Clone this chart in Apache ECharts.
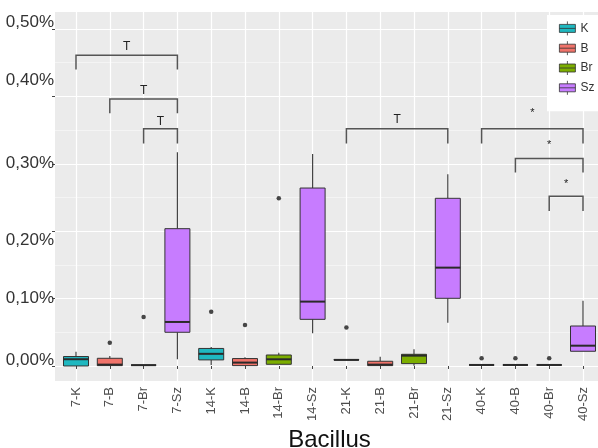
<!DOCTYPE html>
<html>
<head>
<meta charset="utf-8">
<script src="https://cdn.jsdelivr.net/npm/echarts@6/dist/echarts.min.js"></script>
<style>html,body{margin:0;padding:0;background:#fff;}#c{width:598px;height:448px;}</style>
</head>
<body>
<div id="c"></div>
<script>
// ---- data (values in %) ----
var categories = ['7-K','7-B','7-Br','7-Sz','14-K','14-B','14-Br','14-Sz','21-K','21-B','21-Br','21-Sz','40-K','40-B','40-Br','40-Sz'];
var groups = ['K','B','Br','Sz'];
// [category, min, Q1, median, Q3, max]
var statsK = [
  ['7-K', 0.000, 0.000, 0.010, 0.014, 0.021],
  ['14-K', 0.0015, 0.009, 0.018, 0.026, 0.028],
  ['21-K', 0.009, 0.009, 0.009, 0.0095, 0.0095],
  ['40-K', 0.0015, 0.0015, 0.0015, 0.0015, 0.0015]
];
var statsB = [
  ['7-B', 0.0005, 0.0005, 0.002, 0.0114, 0.0148],
  ['14-B', 0.0005, 0.0005, 0.005, 0.011, 0.013],
  ['21-B', 0.0005, 0.0005, 0.002, 0.007, 0.0138],
  ['40-B', 0.0015, 0.0015, 0.0015, 0.0015, 0.0015]
];
var statsBr = [
  ['7-Br', 0.0012, 0.0012, 0.0012, 0.0012, 0.0012],
  ['14-Br', 0.0025, 0.0025, 0.0099, 0.0163, 0.0198],
  ['21-Br', 0.0005, 0.0035, 0.0153, 0.0173, 0.0247],
  ['40-Br', 0.0015, 0.0015, 0.0015, 0.0015, 0.0015]
];
var statsSz = [
  ['7-Sz', 0.0099, 0.050, 0.0653, 0.2037, 0.317],
  ['14-Sz', 0.0485, 0.0692, 0.0955, 0.264, 0.3145],
  ['21-Sz', 0.0643, 0.1004, 0.1459, 0.2488, 0.2844],
  ['40-Sz', 0.0218, 0.0218, 0.0301, 0.0593, 0.0969]
];
var outliers = [
  ['7-B', 0.0346], ['7-Br', 0.0727], ['14-K', 0.0806], ['14-B', 0.0608],
  ['14-Br', 0.249], ['21-K', 0.0569], ['40-K', 0.0114], ['40-B', 0.0114], ['40-Br', 0.0114]
];
// [from, to, bracket level, tick end, label level, label]
var brackets = [
  ['7-K', '7-Sz', 0.461, 0.440, 0.474, 'T'],
  ['7-B', '7-Sz', 0.396, 0.375, 0.408, 'T'],
  ['7-Br', '7-Sz', 0.352, 0.330, 0.362, 'T'],
  ['21-K', '21-Sz', 0.352, 0.330, 0.366, 'T'],
  ['40-K', '40-Sz', 0.352, 0.330, 0.375, '*'],
  ['40-B', '40-Sz', 0.308, 0.287, 0.328, '*'],
  ['40-Br', '40-Sz', 0.252, 0.230, 0.270, '*']
];
var yMajor = [0, 0.1, 0.2, 0.3, 0.4, 0.5];
var yMinor = [0.05, 0.15, 0.25, 0.35, 0.45];
var yMin = -0.0223, yMax = 0.5252;

var colors = {K: '#1FB8C0', B: '#F0736A', Br: '#7CAE00', Sz: '#C77CFF'};
var statsByGroup = {K: statsK, B: statsB, Br: statsBr, Sz: statsSz};
var FONT = 'Liberation Sans, Arial, sans-serif';
var BOX_W = 25;

var chart = echarts.init(document.getElementById('c'), null, {renderer: 'canvas'});
var legendIcon = 'path://M0,3H16V11H0Z M0,7H16 M8,0V3 M8,11V14';

// ggplot-style box: whiskers without end caps, thick median
function boxRenderer(color) {
  return function (params, api) {
    var xi = api.value(0);
    var x = api.coord([xi, 0])[0];
    var yMinP = api.coord([xi, api.value(1)])[1];
    var yQ1 = api.coord([xi, api.value(2)])[1];
    var yMed = api.coord([xi, api.value(3)])[1];
    var yQ3 = api.coord([xi, api.value(4)])[1];
    var yMaxP = api.coord([xi, api.value(5)])[1];
    var half = BOX_W / 2;
    return {
      type: 'group',
      children: [
        {type: 'line', shape: {x1: x, y1: yQ3, x2: x, y2: yMaxP}, style: {stroke: '#444', lineWidth: 1.2}},
        {type: 'line', shape: {x1: x, y1: yQ1, x2: x, y2: yMinP}, style: {stroke: '#444', lineWidth: 1.2}},
        {type: 'rect', shape: {x: x - half, y: yQ3, width: BOX_W, height: Math.max(yQ1 - yQ3, 0)}, style: {fill: color, stroke: '#333', lineWidth: 1}},
        {type: 'line', shape: {x1: x - half, y1: yMed, x2: x + half, y2: yMed}, style: {stroke: '#2a2a2a', lineWidth: 2}}
      ]
    };
  };
}

var series = groups.map(function (g) {
  return {
    name: g,
    type: 'custom',
    xAxisIndex: 1, yAxisIndex: 2,
    encode: {x: 0, y: [1, 2, 3, 4, 5]},
    data: statsByGroup[g],
    itemStyle: {color: colors[g]},
    renderItem: boxRenderer(colors[g]),
    silent: true,
    z: 3
  };
});
series.push({
  type: 'scatter',
  xAxisIndex: 1, yAxisIndex: 2,
  data: outliers,
  symbolSize: 4.5,
  itemStyle: {color: '#1a1a1a'},
  silent: true,
  z: 4
});
series.push({
  type: 'custom',
  xAxisIndex: 1, yAxisIndex: 2,
  data: brackets.map(function (b, i) { return [i]; }),
  silent: true,
  z: 5,
  renderItem: function (params, api) {
    var b = brackets[params.dataIndex];
    var xs = categories.indexOf(b[0]), xe = categories.indexOf(b[1]);
    var p1 = api.coord([xs, b[2]]), p2 = api.coord([xe, b[2]]);
    var t1 = api.coord([xs, b[3]]), t2 = api.coord([xe, b[3]]);
    var ly = api.coord([xs, b[4]])[1];
    return {
      type: 'group',
      children: [
        {type: 'polyline', shape: {points: [t1, p1, p2, t2]}, style: {stroke: '#555', lineWidth: 1.5, fill: null}},
        {type: 'text', style: {text: b[5], x: (p1[0] + p2[0]) / 2, y: ly, align: 'center', verticalAlign: 'middle', fill: '#222', font: (b[5] === '*' ? '11px ' : '12px ') + FONT}}
      ]
    };
  }
});

// small vertical nudges of the y tick labels as printed in the original figure
var labelShift = {'0': 'd6', '0.1': 'd1', '0.2': 'dn9', '0.3': 'd1', '0.4': 'd16', '0.5': 'd7'};

chart.setOption({
  animation: false,
  backgroundColor: '#ffffff',
  textStyle: {fontFamily: FONT},
  grid: [
    {left: 55, right: 0, top: 12, bottom: 67, show: true, backgroundColor: '#EBEBEB', borderWidth: 0, outerBoundsMode: 'none', containLabel: false},
    {left: 76, right: 15, top: 12, bottom: 67, outerBoundsMode: 'none', containLabel: false}
  ],
  legend: {
    data: groups.map(function (g) {
      return {name: g, itemStyle: {color: colors[g], borderColor: '#333', borderWidth: 0.8}};
    }),
    orient: 'vertical',
    left: 547, top: 15,
    padding: [6, 8, 16, 12],
    itemGap: 5,
    itemWidth: 16, itemHeight: 14,
    icon: legendIcon,
    backgroundColor: '#ffffff',
    textStyle: {fontSize: 12, color: '#333', fontFamily: FONT},
    selectedMode: false
  },
  xAxis: [
    {gridIndex: 0, type: 'value', show: false, min: 0, max: 1},
    {
      gridIndex: 1, type: 'category', data: categories, boundaryGap: false,
      axisLine: {show: false},
      axisTick: {show: true, length: 3, lineStyle: {color: '#444'}},
      axisLabel: {rotate: 90, fontSize: 13, color: '#4D4D4D', margin: 6, fontFamily: FONT},
      splitLine: {show: true, lineStyle: {color: '#ffffff', width: 1.2}},
      name: 'Bacillus', nameLocation: 'middle', nameGap: 44,
      nameTextStyle: {fontSize: 24, color: '#111', fontFamily: FONT}
    }
  ],
  yAxis: [
    {
      gridIndex: 0, type: 'value', min: yMin, max: yMax,
      axisLine: {show: false},
      axisTick: {show: true, length: 3, customValues: yMajor, lineStyle: {color: '#444'}},
      axisLabel: {customValues: yMajor, fontSize: 17, color: '#333', margin: 1, fontFamily: FONT,
        formatter: function (v) {
          var key = String(Math.round(v * 10) / 10);
          return '{' + (labelShift[key] || 'd1') + '|' + v.toFixed(2).replace('.', ',') + '%}';
        },
        rich: {
          d1: {fontSize: 17, padding: [0, 0, 0, 0]},
          d6: {fontSize: 17, padding: [0, 0, 12, 0]},
          d7: {fontSize: 17, padding: [0, 0, 14, 0]},
          d16: {fontSize: 17, padding: [0, 0, 32, 0]},
          dn9: {fontSize: 17, padding: [18, 0, 0, 0]}
        }
      },
      splitLine: {show: true, lineStyle: {color: '#ffffff', width: 1.2}}
    },
    {
      gridIndex: 0, type: 'value', min: yMin, max: yMax, position: 'right',
      axisLine: {show: false},
      axisTick: {show: false, customValues: yMinor},
      axisLabel: {show: false, customValues: yMinor},
      splitLine: {show: true, lineStyle: {color: '#F6F6F6', width: 0.8}}
    },
    {gridIndex: 1, type: 'value', min: yMin, max: yMax, show: false}
  ],
  series: series
});
</script>
</body>
</html>
